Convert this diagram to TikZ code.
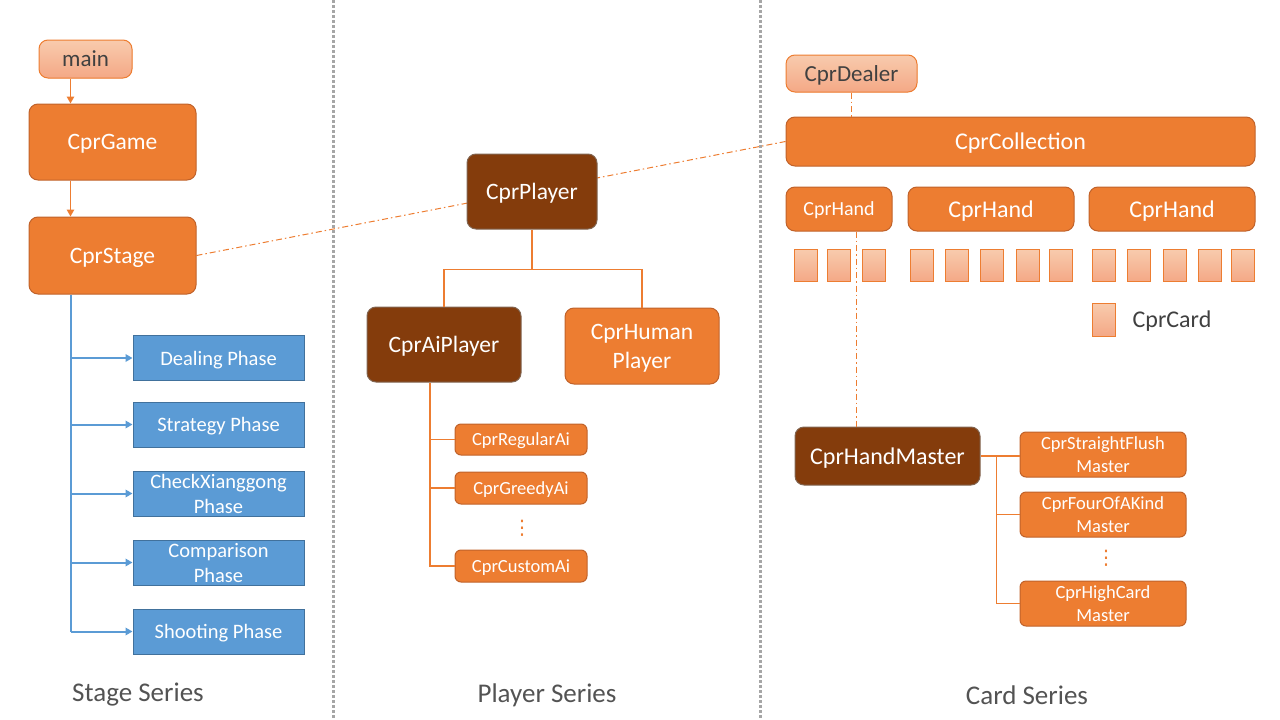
\documentclass[tikz,border=0pt]{standalone}
\usepackage{fontspec}
\setmainfont{Carlito}
\newfontfamily\cprsymbols{DejaVu Sans}
\usetikzlibrary{arrows.meta,positioning,calc,backgrounds}
\definecolor{cprorange}{HTML}{ED7D31}
\definecolor{cprrim}{HTML}{C0622A}
\definecolor{cprbrown}{HTML}{843C0C}
\definecolor{cprblue}{HTML}{5B9BD5}
\definecolor{cprbluerim}{HTML}{41719C}
\definecolor{cprpeachtop}{HTML}{F8CBAD}
\definecolor{cprpeachbot}{HTML}{F4A886}
\definecolor{cprtext}{HTML}{404040}
\definecolor{cprgrey}{HTML}{A6A6A6}
\newcommand*{\cprfont}[2]{\fontsize{#1}{#2}\selectfont}

\begin{document}
\begin{tikzpicture}[x=1pt, y=-1pt, >={Triangle[length=7pt,width=7.5pt]}, semithick]
\tikzstyle{cls}=[draw=cprrim, fill=cprorange, text=white, rounded corners=9, align=center, inner sep=0, text depth=0, line width=1]
\tikzstyle{abstract}=[cls, fill=cprbrown, draw=gray!60!cprbrown]
\tikzstyle{aux}=[cls, draw=cprorange, top color=cprpeachtop, bottom color=cprpeachbot, text=cprtext]
\tikzstyle{phase}=[draw=cprbluerim, fill=cprblue, text=white, align=center, inner sep=0, text depth=0, line width=1, minimum width=171, minimum height=45, font=\cprfont{20.5}{25}]
\tikzstyle{card}=[draw=cprorange, top color=cprpeachtop, bottom color=cprpeachbot, inner sep=0, line width=1, minimum width=23, minimum height=32]
\tikzstyle{link}=[draw=cprorange, line width=1.3]
\tikzstyle{flow}=[draw=cprblue, line width=2]
\tikzstyle{assoc}=[draw=cprorange, line width=1, dash pattern=on 6pt off 3pt on 1.5pt off 3pt]
\tikzstyle{divider}=[draw=cprgrey, line width=3, dash pattern=on 2.5pt off 2.5pt]
\tikzstyle{series}=[text=cprtext!90!white, font=\cprfont{27}{30}]
\tikzstyle{dots}=[text=cprorange, inner sep=0, font=\cprsymbols\cprfont{20}{24}]
\useasboundingbox (0,0) rectangle (1280,720);

% dividers between the three series
\draw[divider] (333,0) -- (333,720);
\draw[divider] (760,0) -- (760,720);

% stage series
\node[aux, minimum width=93, minimum height=38, font=\cprfont{23}{26}] (main) at (85.5,59) {main};
\node[cls, minimum width=167, minimum height=76, font=\cprfont{23.5}{27}] (game) at (112.5,142) {CprGame};
\node[cls, minimum width=167, minimum height=77, font=\cprfont{23.5}{27}] (stage) at (112.5,255.5) {CprStage};
\node[phase] (dealing)    at (218.5,358)   {Dealing Phase};
\node[phase] (strategy)   at (218.5,424.5) {Strategy Phase};
\node[phase] (xianggong)  at (218.5,493.5) {CheckXianggong\\Phase};
\node[phase] (comparison) at (218.5,562.5) {Comparison\\Phase};
\node[phase] (shooting)   at (218.5,631.5) {Shooting Phase};
\node[series] (stageseries) at (138,695) {Stage Series};

\coordinate (spine) at ($(stage.south west)+(42,0)$);
\draw[link,->] (main.south -| spine) -- (game.north -| spine);
\draw[link,->] (game.south -| spine) -- (stage.north -| spine);
\draw[flow] (spine) -- (spine |- shooting.west);
\draw[flow,->] (spine |- dealing.west) -- (dealing.west);
\draw[flow,->] (spine |- strategy.west) -- (strategy.west);
\draw[flow,->] (spine |- xianggong.west) -- (xianggong.west);
\draw[flow,->] (spine |- comparison.west) -- (comparison.west);
\draw[flow,->] (spine |- shooting.west) -- (shooting.west);

% player series
\node[abstract, minimum width=130, minimum height=75, font=\cprfont{23.5}{27}] (player) at (532,191.5) {CprPlayer};
\node[abstract, minimum width=154, minimum height=75, font=\cprfont{23.5}{27}] (aiplayer) at (444,344.5) {CprAiPlayer};
\node[cls, minimum width=154, minimum height=76, font=\cprfont{23.5}{29}] (human) at (642,346) {CprHuman\\Player};
\node[cls, rounded corners=6, minimum width=132, minimum height=31, font=\cprfont{18.5}{20}] (regularai) at (521,439.5) {CprRegularAi};
\node[cls, rounded corners=6, minimum width=132, minimum height=32, font=\cprfont{18.5}{20}] (greedyai) at (521,488) {CprGreedyAi};
\node[dots] (aidots) at (522,528) {⋮};
\node[cls, rounded corners=6, minimum width=132, minimum height=32, font=\cprfont{18.5}{20}] (customai) at (521,566) {CprCustomAi};
\node[series] (playerseries) at (547,695) {Player Series};

\coordinate (pfork) at ($(player.south)+(0,40)$);
\draw[link] (player.south) -- (pfork);
\draw[link] (aiplayer.north) |- (pfork) -| (human.north);
\coordinate (aitrunk) at ($(aiplayer.south)+(-14,0)$);
\draw[link] (aitrunk) |- (customai.west);
\draw[link] (aitrunk |- regularai.west) -- (regularai.west);
\draw[link] (aitrunk |- greedyai.west) -- (greedyai.west);

% card series
\node[aux, minimum width=131, minimum height=37, font=\cprfont{23}{26}] (dealer) at (851.5,73.5) {CprDealer};
\node[cls, minimum width=469, minimum height=49, font=\cprfont{24}{27}] (collection) at (1020.5,141.5) {CprCollection};
\node[cls, minimum width=106, minimum height=44, font=\cprfont{20}{22}] (handa) at (839,209) {CprHand};
\node[cls, minimum width=166, minimum height=44, font=\cprfont{24}{27}] (handb) at (991,209) {CprHand};
\node[cls, minimum width=166, minimum height=44, font=\cprfont{24}{27}] (handc) at (1172,209) {CprHand};
\node[card] (ca1) at (805.5,265.5) {};  \node[card] (ca2) at (838.5,265.5) {};  \node[card] (ca3) at (874,265.5) {};
\node[card] (cb1) at (922,265.5) {};    \node[card] (cb2) at (956.5,265.5) {};  \node[card] (cb3) at (992,265.5) {};
\node[card] (cb4) at (1027.5,265.5) {}; \node[card] (cb5) at (1060.5,265.5) {};
\node[card] (cc1) at (1104,265.5) {};   \node[card] (cc2) at (1138.5,265.5) {}; \node[card] (cc3) at (1174.5,265.5) {};
\node[card] (cc4) at (1209.5,265.5) {}; \node[card] (cc5) at (1242.5,265.5) {};
\node[card, minimum height=33] (legendcard) at (1104,319.5) {};
\node[text=cprtext, text depth=0, font=\cprfont{24}{27}] (legendlabel) [right=13pt of legendcard] {CprCard};
\node[abstract, minimum width=185, minimum height=58, font=\cprfont{24}{27}] (handmaster) at (887.5,456) {CprHandMaster};
\node[cls, rounded corners=6, minimum width=166, minimum height=45, font=\cprfont{18.5}{23}] (flush) at (1103,454.5) {CprStraightFlush\\Master};
\node[cls, rounded corners=6, minimum width=166, minimum height=45, font=\cprfont{18.5}{23}] (fourkind) at (1103,514.5) {CprFourOfAKind\\Master};
\node[dots] (hmdots) at (1106,558) {⋮};
\node[cls, rounded corners=6, minimum width=166, minimum height=45, font=\cprfont{18.5}{23}] (highcard) at (1103,603.5) {CprHighCard\\Master};
\node[series] (cardseries) at (1027,695) {Card Series};

\coordinate (handlink) at ($(handa.south)+(17,0)$);
\draw[assoc] (handlink) -- (handlink |- handmaster.north);
\draw[assoc] (dealer.south) -- (dealer.south |- collection.north);
\coordinate (hmtrunk) at ($(handmaster.east)+(16,0)$);
\draw[link] (handmaster.east) -- (handmaster.east -| flush.west);
\draw[link] (hmtrunk) |- (highcard.west);
\draw[link] (hmtrunk |- fourkind.west) -- (fourkind.west);

% association behind the player box
\begin{pgfonlayer}{background}
\draw[assoc] (stage.east) -- (collection.west);
\end{pgfonlayer}
\end{tikzpicture}
\end{document}
